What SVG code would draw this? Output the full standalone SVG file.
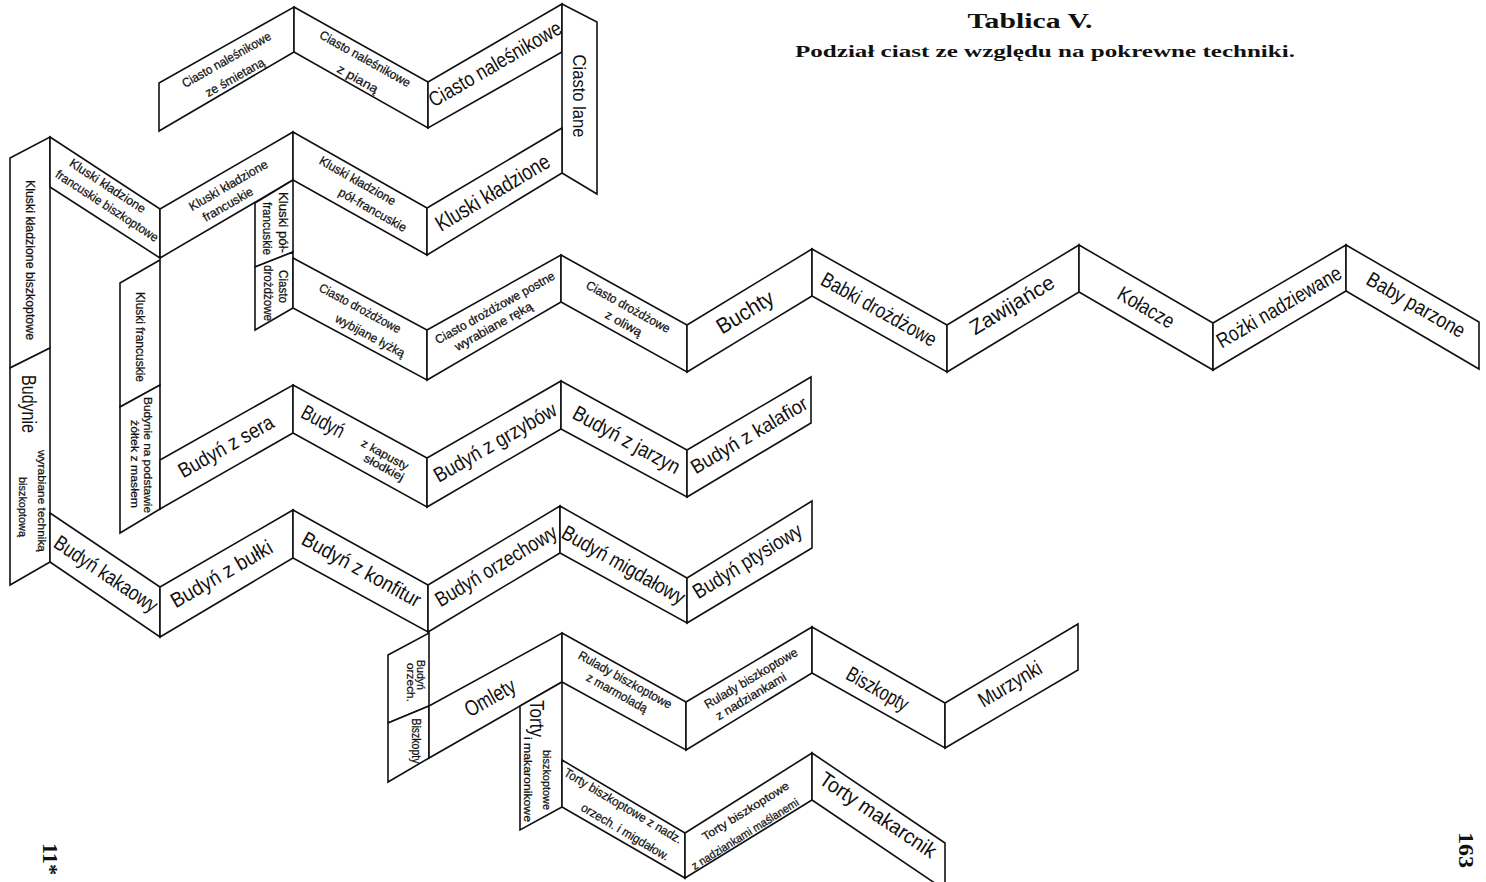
<svg xmlns="http://www.w3.org/2000/svg" width="1486" height="882" viewBox="0 0 1486 882">
<style>
.p{fill:#fff;stroke:#111;stroke-width:1.6;stroke-linejoin:miter}
.t{font-family:"Liberation Sans Narrow","Liberation Sans",Arial,sans-serif;text-anchor:middle;fill:#111}
.s{font-size:12.5px;stroke:#111;stroke-width:0.25}.x{font-size:11.5px;stroke:#111;stroke-width:0.25}.m{font-size:21px}
.ser{font-family:"Liberation Serif","Times New Roman",serif;fill:#111;text-anchor:middle}
</style>
<rect width="1486" height="882" fill="#fff"/>
<g id="title">
<text class="ser" x="1030" y="28" font-size="20" font-weight="bold" textLength="125" lengthAdjust="spacingAndGlyphs">Tablica V.</text>
<text class="ser" x="1045" y="57" font-size="17" font-weight="bold" textLength="500" lengthAdjust="spacingAndGlyphs">Podział ciast ze względu na pokrewne techniki.</text>
</g>
<g id="nodes">
<g id="n-nales-smiet"><polygon class="p" points="159,83 294,7 294,52 159,131"/>
<text class="t s" transform="translate(226.5,60) rotate(-29.4)" y="4" textLength="100" lengthAdjust="spacingAndGlyphs">Ciasto naleśnikowe</text>
<text class="t s" transform="translate(235,77.5) rotate(-29.4)" y="4" textLength="66" lengthAdjust="spacingAndGlyphs">ze śmietaną</text></g>
<g id="n-nales-pian"><polygon class="p" points="294,7 428,82 428,128 294,52"/>
<text class="t s" transform="translate(365,59) rotate(29.2)" y="4" textLength="102" lengthAdjust="spacingAndGlyphs">Ciasto naleśnikowe</text>
<text class="t s" transform="translate(357.5,79) rotate(29.2)" y="4" textLength="45" lengthAdjust="spacingAndGlyphs">z pianą</text></g>
<g id="n-nales"><polygon class="p" points="428,82 562,4 562,52 428,128"/>
<text class="t m" transform="translate(495,64) rotate(-30.2)" y="7" textLength="150" lengthAdjust="spacingAndGlyphs">Ciasto naleśnikowe</text></g>
<g id="n-lane"><polygon class="p" points="562,4 597,22 597,194 562,173"/>
<text class="t" font-size="19" transform="translate(580,96) rotate(90)" y="7" textLength="83" lengthAdjust="spacingAndGlyphs">Ciasto lane</text></g>

<g id="n-kl-bisz"><polygon class="p" points="10,158 50,137 50,348 10,368"/>
<text class="t s" transform="translate(30,260) rotate(90)" y="4.5" textLength="160" lengthAdjust="spacingAndGlyphs">Kluski kładzione biszkoptowe</text></g>
<g id="n-budynie"><polygon class="p" points="10,368 50,348 50,562 10,585"/>
<text class="t" font-size="20" transform="translate(29,404) rotate(90)" y="7" textLength="58" lengthAdjust="spacingAndGlyphs">Budynie</text>
<text class="t x" transform="translate(42,501) rotate(90)" y="4" textLength="102" lengthAdjust="spacingAndGlyphs">wyrabiane techniką</text>
<text class="t x" transform="translate(23,507) rotate(90)" y="4" textLength="60" lengthAdjust="spacingAndGlyphs">biszkoptową</text></g>
<g id="n-kl-fr-bisz"><polygon class="p" points="50,137 160,209 160,258 50,187"/>
<text class="t s" transform="translate(107.5,186) rotate(33.2)" y="4" textLength="88" lengthAdjust="spacingAndGlyphs">Kluski kładzione</text>
<text class="t s" transform="translate(107,206) rotate(33.2)" y="4" textLength="120" lengthAdjust="spacingAndGlyphs">francuskie biszkoptowe</text></g>
<g id="n-kl-fr"><polygon class="p" points="160,209 293,132 293,180 160,258"/>
<text class="t s" transform="translate(228.5,185.5) rotate(-30)" y="4" textLength="89" lengthAdjust="spacingAndGlyphs">Kluski kładzione</text>
<text class="t s" transform="translate(228,204.5) rotate(-30)" y="4" textLength="56" lengthAdjust="spacingAndGlyphs">francuskie</text></g>
<g id="n-kl-polfr"><polygon class="p" points="293,132 427,208 427,255 293,180"/>
<text class="t s" transform="translate(357.5,181) rotate(29.6)" y="4" textLength="86" lengthAdjust="spacingAndGlyphs">Kluski kładzione</text>
<text class="t s" transform="translate(372.5,210) rotate(29.6)" y="4" textLength="76" lengthAdjust="spacingAndGlyphs">pół-francuskie</text></g>
<g id="n-kl"><polygon class="p" points="427,208 562,128 562,173 427,255"/>
<text class="t" font-size="22" transform="translate(492.5,192.5) rotate(-30.8)" y="7.5" textLength="129" lengthAdjust="spacingAndGlyphs">Kluski kładzione</text></g>

<g id="n-kl-polfr2"><polygon class="p" points="255,203 293,180 293,252 255,267"/>
<text class="t s" transform="translate(283,222.5) rotate(90)" y="4" textLength="61" lengthAdjust="spacingAndGlyphs">Kluski pół-</text>
<text class="t s" transform="translate(267,228.5) rotate(90)" y="4" textLength="53" lengthAdjust="spacingAndGlyphs">francuskie</text></g>
<g id="n-drozdz"><polygon class="p" points="255,267 293,252 293,308 255,330"/>
<text class="t s" transform="translate(283,286.5) rotate(90)" y="4" textLength="33" lengthAdjust="spacingAndGlyphs">Ciasto</text>
<text class="t s" transform="translate(268,293) rotate(90)" y="4" textLength="56" lengthAdjust="spacingAndGlyphs">drożdżowe</text></g>
<g id="n-dr-lyzka"><polygon class="p" points="293,258 427,330 427,380 293,308"/>
<text class="t s" transform="translate(360,308.5) rotate(28.3)" y="4" textLength="91" lengthAdjust="spacingAndGlyphs">Ciasto drożdżowe</text>
<text class="t s" transform="translate(370,336) rotate(28.3)" y="4" textLength="77" lengthAdjust="spacingAndGlyphs">wybijane łyżką</text></g>
<g id="n-dr-postne"><polygon class="p" points="427,330 561,255 561,302 427,380"/>
<text class="t s" transform="translate(495,308) rotate(-29.2)" y="4" textLength="135" lengthAdjust="spacingAndGlyphs">Ciasto drożdżowe postne</text>
<text class="t s" transform="translate(493.5,326.5) rotate(-29.2)" y="4" textLength="87" lengthAdjust="spacingAndGlyphs">wyrabiane ręką</text></g>
<g id="n-dr-oliwa"><polygon class="p" points="561,255 687,325 687,372 561,302"/>
<text class="t s" transform="translate(628,307) rotate(29)" y="4" textLength="94" lengthAdjust="spacingAndGlyphs">Ciasto drożdżowe</text>
<text class="t s" transform="translate(623.5,323.5) rotate(29)" y="4" textLength="40" lengthAdjust="spacingAndGlyphs">z oliwą</text></g>
<g id="n-buchty"><polygon class="p" points="687,325 812,249 812,296 687,372"/>
<text class="t" font-size="22" transform="translate(745,312) rotate(-31.3)" y="7.5" textLength="63" lengthAdjust="spacingAndGlyphs">Buchty</text></g>
<g id="n-babki"><polygon class="p" points="812,249 947,325 947,372 812,296"/>
<text class="t m" transform="translate(879,309.5) rotate(29.4)" y="7" textLength="129" lengthAdjust="spacingAndGlyphs">Babki drożdżowe</text></g>
<g id="n-zawij"><polygon class="p" points="947,325 1079,245 1079,292 947,372"/>
<text class="t m" transform="translate(1012,305) rotate(-31.2)" y="7" textLength="95" lengthAdjust="spacingAndGlyphs">Zawijańce</text></g>
<g id="n-kolacze"><polygon class="p" points="1079,245 1213,323 1213,370 1079,292"/>
<text class="t m" transform="translate(1146,307.5) rotate(30.2)" y="7" textLength="62" lengthAdjust="spacingAndGlyphs">Kołacze</text></g>
<g id="n-rozki"><polygon class="p" points="1213,323 1346,245 1346,291 1213,370"/>
<text class="t m" transform="translate(1279,307) rotate(-30.4)" y="7" textLength="141" lengthAdjust="spacingAndGlyphs">Rożki nadziewane</text></g>
<g id="n-baby"><polygon class="p" points="1346,245 1479,322 1479,369 1346,291"/>
<text class="t m" transform="translate(1416,305) rotate(30)" y="7" textLength="110" lengthAdjust="spacingAndGlyphs">Baby parzone</text></g>

<g id="n-kl-franc"><polygon class="p" points="120,283 160,260 160,385 120,407"/>
<text class="t s" transform="translate(140,337) rotate(90)" y="4" textLength="90" lengthAdjust="spacingAndGlyphs">Kluski francuskie</text></g>
<g id="n-bud-zoltek"><polygon class="p" points="120,407 160,385 160,509 120,533"/>
<text class="t x" transform="translate(148,455) rotate(90)" y="4" textLength="116" lengthAdjust="spacingAndGlyphs">Budynie na podstawie</text>
<text class="t x" transform="translate(135,464) rotate(90)" y="4" textLength="88" lengthAdjust="spacingAndGlyphs">żółtek z masłem</text></g>
<g id="n-bud-sera"><polygon class="p" points="160,460 293,385 293,433 160,509"/>
<text class="t m" transform="translate(226,446.5) rotate(-29.4)" y="7" textLength="106" lengthAdjust="spacingAndGlyphs">Budyń z sera</text></g>
<g id="n-bud-kap"><polygon class="p" points="293,385 427,458 427,507 293,433"/>
<text class="t m" transform="translate(323,421.5) rotate(28.6)" y="7" textLength="46" lengthAdjust="spacingAndGlyphs">Budyń</text>
<text class="t x" transform="translate(385,454.5) rotate(28.6)" y="4" textLength="52" lengthAdjust="spacingAndGlyphs">z kapusty</text>
<text class="t x" transform="translate(384,467.5) rotate(28.6)" y="4" textLength="44" lengthAdjust="spacingAndGlyphs">słodkiej</text></g>
<g id="n-bud-grzyb"><polygon class="p" points="427,458 561,381 561,429 427,507"/>
<text class="t m" transform="translate(495,442.5) rotate(-29.9)" y="7" textLength="138" lengthAdjust="spacingAndGlyphs">Budyń z grzybów</text></g>
<g id="n-bud-jarz"><polygon class="p" points="561,381 687,450 687,497 561,429"/>
<text class="t m" transform="translate(626.5,440) rotate(28.7)" y="7" textLength="119" lengthAdjust="spacingAndGlyphs">Budyń z jarzyn</text></g>
<g id="n-bud-kalaf"><polygon class="p" points="687,450 811,377 811,423 687,497"/>
<text class="t" font-size="20" transform="translate(749,435) rotate(-30.5)" y="7" textLength="132" lengthAdjust="spacingAndGlyphs">Budyń z kalafior</text></g>

<g id="n-bud-kakao"><polygon class="p" points="50,513 160,587 160,637 50,562"/>
<text class="t m" transform="translate(106,574) rotate(34)" y="7" textLength="120" lengthAdjust="spacingAndGlyphs">Budyń kakaowy</text></g>
<g id="n-bud-bulki"><polygon class="p" points="160,587 293,510 293,558 160,637"/>
<text class="t m" transform="translate(221.5,574) rotate(-30)" y="7" textLength="114" lengthAdjust="spacingAndGlyphs">Budyń z bułki</text></g>
<g id="n-bud-konf"><polygon class="p" points="293,510 428,585 428,632 293,558"/>
<text class="t m" transform="translate(361.5,569.5) rotate(29)" y="7" textLength="133" lengthAdjust="spacingAndGlyphs">Budyń z konfitur</text></g>
<g id="n-bud-orzech"><polygon class="p" points="428,585 560,506 560,553 428,632"/>
<text class="t m" transform="translate(496,566) rotate(-30.9)" y="7" textLength="138" lengthAdjust="spacingAndGlyphs">Budyń orzechowy</text></g>
<g id="n-bud-migd"><polygon class="p" points="560,506 687,578 687,623 560,553"/>
<text class="t m" transform="translate(623.5,565) rotate(29.5)" y="7" textLength="138" lengthAdjust="spacingAndGlyphs">Budyń migdałowy</text></g>
<g id="n-bud-ptys"><polygon class="p" points="687,578 812,501 812,548 687,623"/>
<text class="t m" transform="translate(747.5,561) rotate(-31.6)" y="7" textLength="124" lengthAdjust="spacingAndGlyphs">Budyń ptysiowy</text></g>

<g id="n-bud-orz-n"><polygon class="p" points="388,655 429,633 429,706 388,723"/>
<text class="t x" transform="translate(421,675) rotate(90)" y="4" textLength="30" lengthAdjust="spacingAndGlyphs">Budyń</text>
<text class="t x" transform="translate(411,682.5) rotate(90)" y="4" textLength="39" lengthAdjust="spacingAndGlyphs">orzech.</text></g>
<g id="n-biszk-n"><polygon class="p" points="388,723 429,706 429,758 388,782"/>
<text class="t s" transform="translate(416,741) rotate(90)" y="4" textLength="45" lengthAdjust="spacingAndGlyphs">Biszkopty</text></g>
<g id="n-omlety"><polygon class="p" points="429,706 562,633 562,682 429,758"/>
<text class="t" font-size="22" transform="translate(490,697.5) rotate(-29.4)" y="7.5" textLength="55" lengthAdjust="spacingAndGlyphs">Omlety</text></g>
<g id="n-torty-n"><polygon class="p" points="520,706 562,682 562,807 520,830"/>
<text class="t" font-size="20" transform="translate(537,718.5) rotate(90)" y="7" textLength="37" lengthAdjust="spacingAndGlyphs">Torty</text>
<text class="t x" transform="translate(547,780) rotate(90)" y="4" textLength="60" lengthAdjust="spacingAndGlyphs">biszkoptowe</text>
<text class="t x" transform="translate(528,779.5) rotate(90)" y="4" textLength="85" lengthAdjust="spacingAndGlyphs">i makaronikowe</text></g>
<g id="n-rul-marm"><polygon class="p" points="562,633 686,702 686,750 562,682"/>
<text class="t s" transform="translate(625,680) rotate(29.1)" y="4" textLength="105" lengthAdjust="spacingAndGlyphs">Rulady biszkoptowe</text>
<text class="t s" transform="translate(617,693) rotate(29.1)" y="4" textLength="68" lengthAdjust="spacingAndGlyphs">z marmoladą</text></g>
<g id="n-rul-nadz"><polygon class="p" points="686,702 812,627 812,673 686,750"/>
<text class="t s" transform="translate(751,678.5) rotate(-30.8)" y="4" textLength="106" lengthAdjust="spacingAndGlyphs">Rulady biszkoptowe</text>
<text class="t s" transform="translate(751,696.5) rotate(-30.8)" y="4" textLength="80" lengthAdjust="spacingAndGlyphs">z nadziankami</text></g>
<g id="n-biszkopty"><polygon class="p" points="812,627 945,703 945,748 812,673"/>
<text class="t m" transform="translate(877.5,689) rotate(29.7)" y="7" textLength="68" lengthAdjust="spacingAndGlyphs">Biszkopty</text></g>
<g id="n-murzynki"><polygon class="p" points="945,703 1078,624 1078,670 945,748"/>
<text class="t m" transform="translate(1010,684) rotate(-30.7)" y="7" textLength="70" lengthAdjust="spacingAndGlyphs">Murzynki</text></g>

<g id="n-torty-orz"><polygon class="p" points="562,760 685,833 685,878 562,807"/>
<text class="t s" transform="translate(623,806) rotate(30.7)" y="4" textLength="135" lengthAdjust="spacingAndGlyphs">Torty biszkoptowe z nadz.</text>
<text class="t s" transform="translate(625,832) rotate(30.7)" y="4" textLength="100" lengthAdjust="spacingAndGlyphs">orzech. i migdałow.</text></g>
<g id="n-torty-masl"><polygon class="p" points="685,833 812,753 812,800 685,878"/>
<text class="t x" transform="translate(745.5,811) rotate(-32)" y="4" textLength="100" lengthAdjust="spacingAndGlyphs">Torty biszkoptowe</text>
<text class="t x" transform="translate(745,834) rotate(-32)" y="4" textLength="124" lengthAdjust="spacingAndGlyphs">z nadziankami maślanemi</text></g>
<g id="n-torty-mak"><polygon class="p" points="812,753 945,843 945,890 812,800"/>
<text class="t m" transform="translate(878,815) rotate(34)" y="7" textLength="136" lengthAdjust="spacingAndGlyphs">Torty makarcnik</text></g>
</g>
<g id="connectors"></g>
<g id="page-numbers">
<text class="ser" font-size="20" font-weight="bold" transform="translate(50,859) rotate(90)" y="7" textLength="32" lengthAdjust="spacingAndGlyphs">11*</text>
<text class="ser" font-size="22" font-weight="bold" transform="translate(1466,850) rotate(90)" y="7" textLength="36" lengthAdjust="spacingAndGlyphs">163</text>
</g>
</svg>
